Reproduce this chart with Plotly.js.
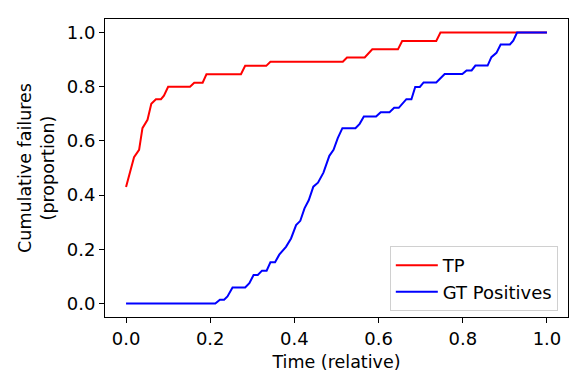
<!DOCTYPE html>
<html>
<head>
<meta charset="utf-8">
<script src="https://cdn.plot.ly/plotly-3.0.1.min.js"></script>
<style>
  html, body { margin: 0; padding: 0; background: #fff; }
  #graf { width: 588px; height: 392px; }
</style>
</head>
<body>
<div id="graf"></div>
<script>
// TP cumulative curve
var tpTime = [0, 0.011, 0.019, 0.031, 0.039, 0.051, 0.060, 0.071, 0.083, 0.090,
              0.100, 0.152, 0.162, 0.182, 0.191, 0.273, 0.283, 0.333, 0.343, 0.515,
              0.525, 0.567, 0.585, 0.646, 0.656, 0.737, 0.747, 1.0];
var tpFrac = [0.43, 0.49, 0.54, 0.567, 0.647, 0.678, 0.737, 0.754, 0.754, 0.767,
              0.80, 0.80, 0.815, 0.815, 0.846, 0.846, 0.877, 0.877, 0.892, 0.892,
              0.908, 0.908, 0.938, 0.938, 0.969, 0.969, 1.0, 1.0];

// GT positives cumulative curve
var gtTime = [0, 0.212, 0.223, 0.233, 0.241, 0.253, 0.283, 0.293, 0.303, 0.313,
              0.323, 0.334, 0.343, 0.354, 0.364, 0.380, 0.392, 0.404, 0.414, 0.424,
              0.434, 0.445, 0.456, 0.469, 0.483, 0.493, 0.503, 0.514, 0.545, 0.555,
              0.565, 0.594, 0.605, 0.626, 0.637, 0.648, 0.666, 0.678, 0.687, 0.698,
              0.707, 0.737, 0.757, 0.799, 0.809, 0.821, 0.830, 0.859, 0.868, 0.880,
              0.890, 0.912, 0.920, 0.929, 1.0];
var gtFrac = [0, 0, 0.014, 0.014, 0.026, 0.059, 0.059, 0.075, 0.105, 0.105,
              0.121, 0.121, 0.152, 0.152, 0.18, 0.209, 0.24, 0.289, 0.305, 0.351,
              0.381, 0.431, 0.446, 0.483, 0.545, 0.567, 0.61, 0.647, 0.647, 0.663,
              0.69, 0.69, 0.706, 0.706, 0.722, 0.722, 0.754, 0.754, 0.799, 0.799,
              0.816, 0.816, 0.847, 0.847, 0.86, 0.86, 0.878, 0.878, 0.909, 0.925,
              0.956, 0.956, 0.97, 1.0, 1.0];

var tickVals = [0, 0.2, 0.4, 0.6, 0.8, 1.0];
var tickText = ['0.0', '0.2', '0.4', '0.6', '0.8', '1.0'];

var fuente = { family: 'DejaVu Sans', size: 17.5, color: '#000' };
var fuenteTicks = { family: 'DejaVu Sans', size: 18, color: '#000' };

var trazoTP = {
    x: tpTime, y: tpFrac, name: 'TP',
    mode: 'lines', line: { color: 'red', width: 2 }
};
var trazoGT = {
    x: gtTime, y: gtFrac, name: 'GT Positives',
    mode: 'lines', line: { color: 'blue', width: 2 }
};

function eje(titulo, separacion) {
    return {
        title: { text: titulo, font: fuente, standoff: separacion },
        range: [-0.05, 1.05],
        tickvals: tickVals, ticktext: tickText,
        ticks: 'outside', ticklen: 5, tickwidth: 1, tickcolor: '#000',
        showline: true, mirror: true, linecolor: '#000', linewidth: 1,
        showgrid: false, zeroline: false,
        tickfont: fuenteTicks
    };
}

var layout = {
    width: 588, height: 392,
    margin: { l: 105, r: 20, t: 19, b: 75 },
    paper_bgcolor: '#fff', plot_bgcolor: '#fff',
    font: fuente,
    xaxis: eje('Time (relative)', 8),
    yaxis: eje('Cumulative failures<br>(proportion)', 7),
    showlegend: true,
    legend: {
        x: 0.978, y: 0.02, xanchor: 'right', yanchor: 'bottom',
        bgcolor: '#fff', bordercolor: '#d0d0d0', borderwidth: 1,
        itemwidth: 42,
        font: fuenteTicks
    }
};

Plotly.newPlot('graf', [trazoTP, trazoGT], layout, { staticPlot: true });
</script>
</body>
</html>
